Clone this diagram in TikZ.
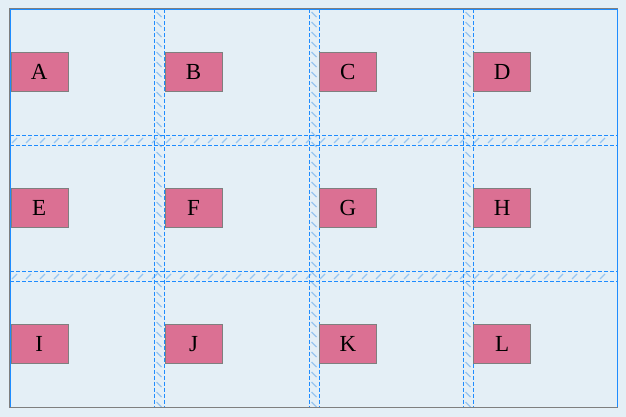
\documentclass[tikz,border=0pt]{standalone}
\usepackage{fontspec}
\setmainfont{Liberation Serif}
\usetikzlibrary{positioning}
\definecolor{bgblue}{HTML}{E4EFF6}
\definecolor{gridblue}{HTML}{1E8CFF}
\definecolor{hatchblue}{HTML}{98C6F0}
\definecolor{cellpink}{HTML}{DB7093}
\definecolor{frame}{HTML}{7F7F7F}
\begin{document}
\begin{tikzpicture}[
        x=1pt, y=-1pt, % координаты в пикселях, ось y вниз
        cell/.style={draw=frame, fill=cellpink, minimum width=57pt, minimum height=39pt,
                inner sep=0pt, anchor=north west, font=\fontsize{23}{23}\selectfont}, % Стиль ячеек
        gapline/.style={gridblue, line width=1pt, dash pattern=on 4pt off 2pt}, % Границы промежутков
        hatch/.style={hatchblue, line width=1.3pt},
    ]

    \fill[bgblue] (0,0) rectangle (626,417);

    % штриховка промежутков
    \foreach \gx in {154.5,309.5,463.5} {
        \foreach \gy in {12,22,...,402}
            \draw[hatch] (\gx+2,\gy) -- (\gx+7,\gy+5);
    }
    \foreach \gy in {135.5,271.5} {
        \foreach \gx in {12,26,...,610}
            \draw[hatch] (\gx,\gy+7.5) -- (\gx+5,\gy+2.5);
    }

    % штриховые линии
    \foreach \gx in {154.5,309.5,463.5} {
        \draw[gapline] (\gx,9.5) -- (\gx,407);
        \draw[gapline] (\gx+10,9.5) -- (\gx+10,407);
    }
    \foreach \gy in {135.5,271.5} {
        \draw[gapline] (10,\gy) -- (617,\gy);
        \draw[gapline] (10,\gy+10) -- (617,\gy+10);
    }

    % ячейки
    \foreach \lbl [count=\i from 0] in {A,B,C,D,E,F,G,H,I,J,K,L} {
        \pgfmathsetmacro{\cx}{10.5+154.33*mod(\i,4)}
        \pgfmathsetmacro{\cy}{52+136*int(\i/4)}
        \node[cell] (\lbl) at (\cx,\cy) {\lbl};
    }

    % рамка контейнера
    \draw[frame, line width=1pt] (9.5,8.5) rectangle (617.5,407.5);
    \draw[gridblue, line width=1.2pt] (10.6,407) -- (10.6,9.6) -- (617.4,9.6) -- (617.4,407);
\end{tikzpicture}
\end{document}
